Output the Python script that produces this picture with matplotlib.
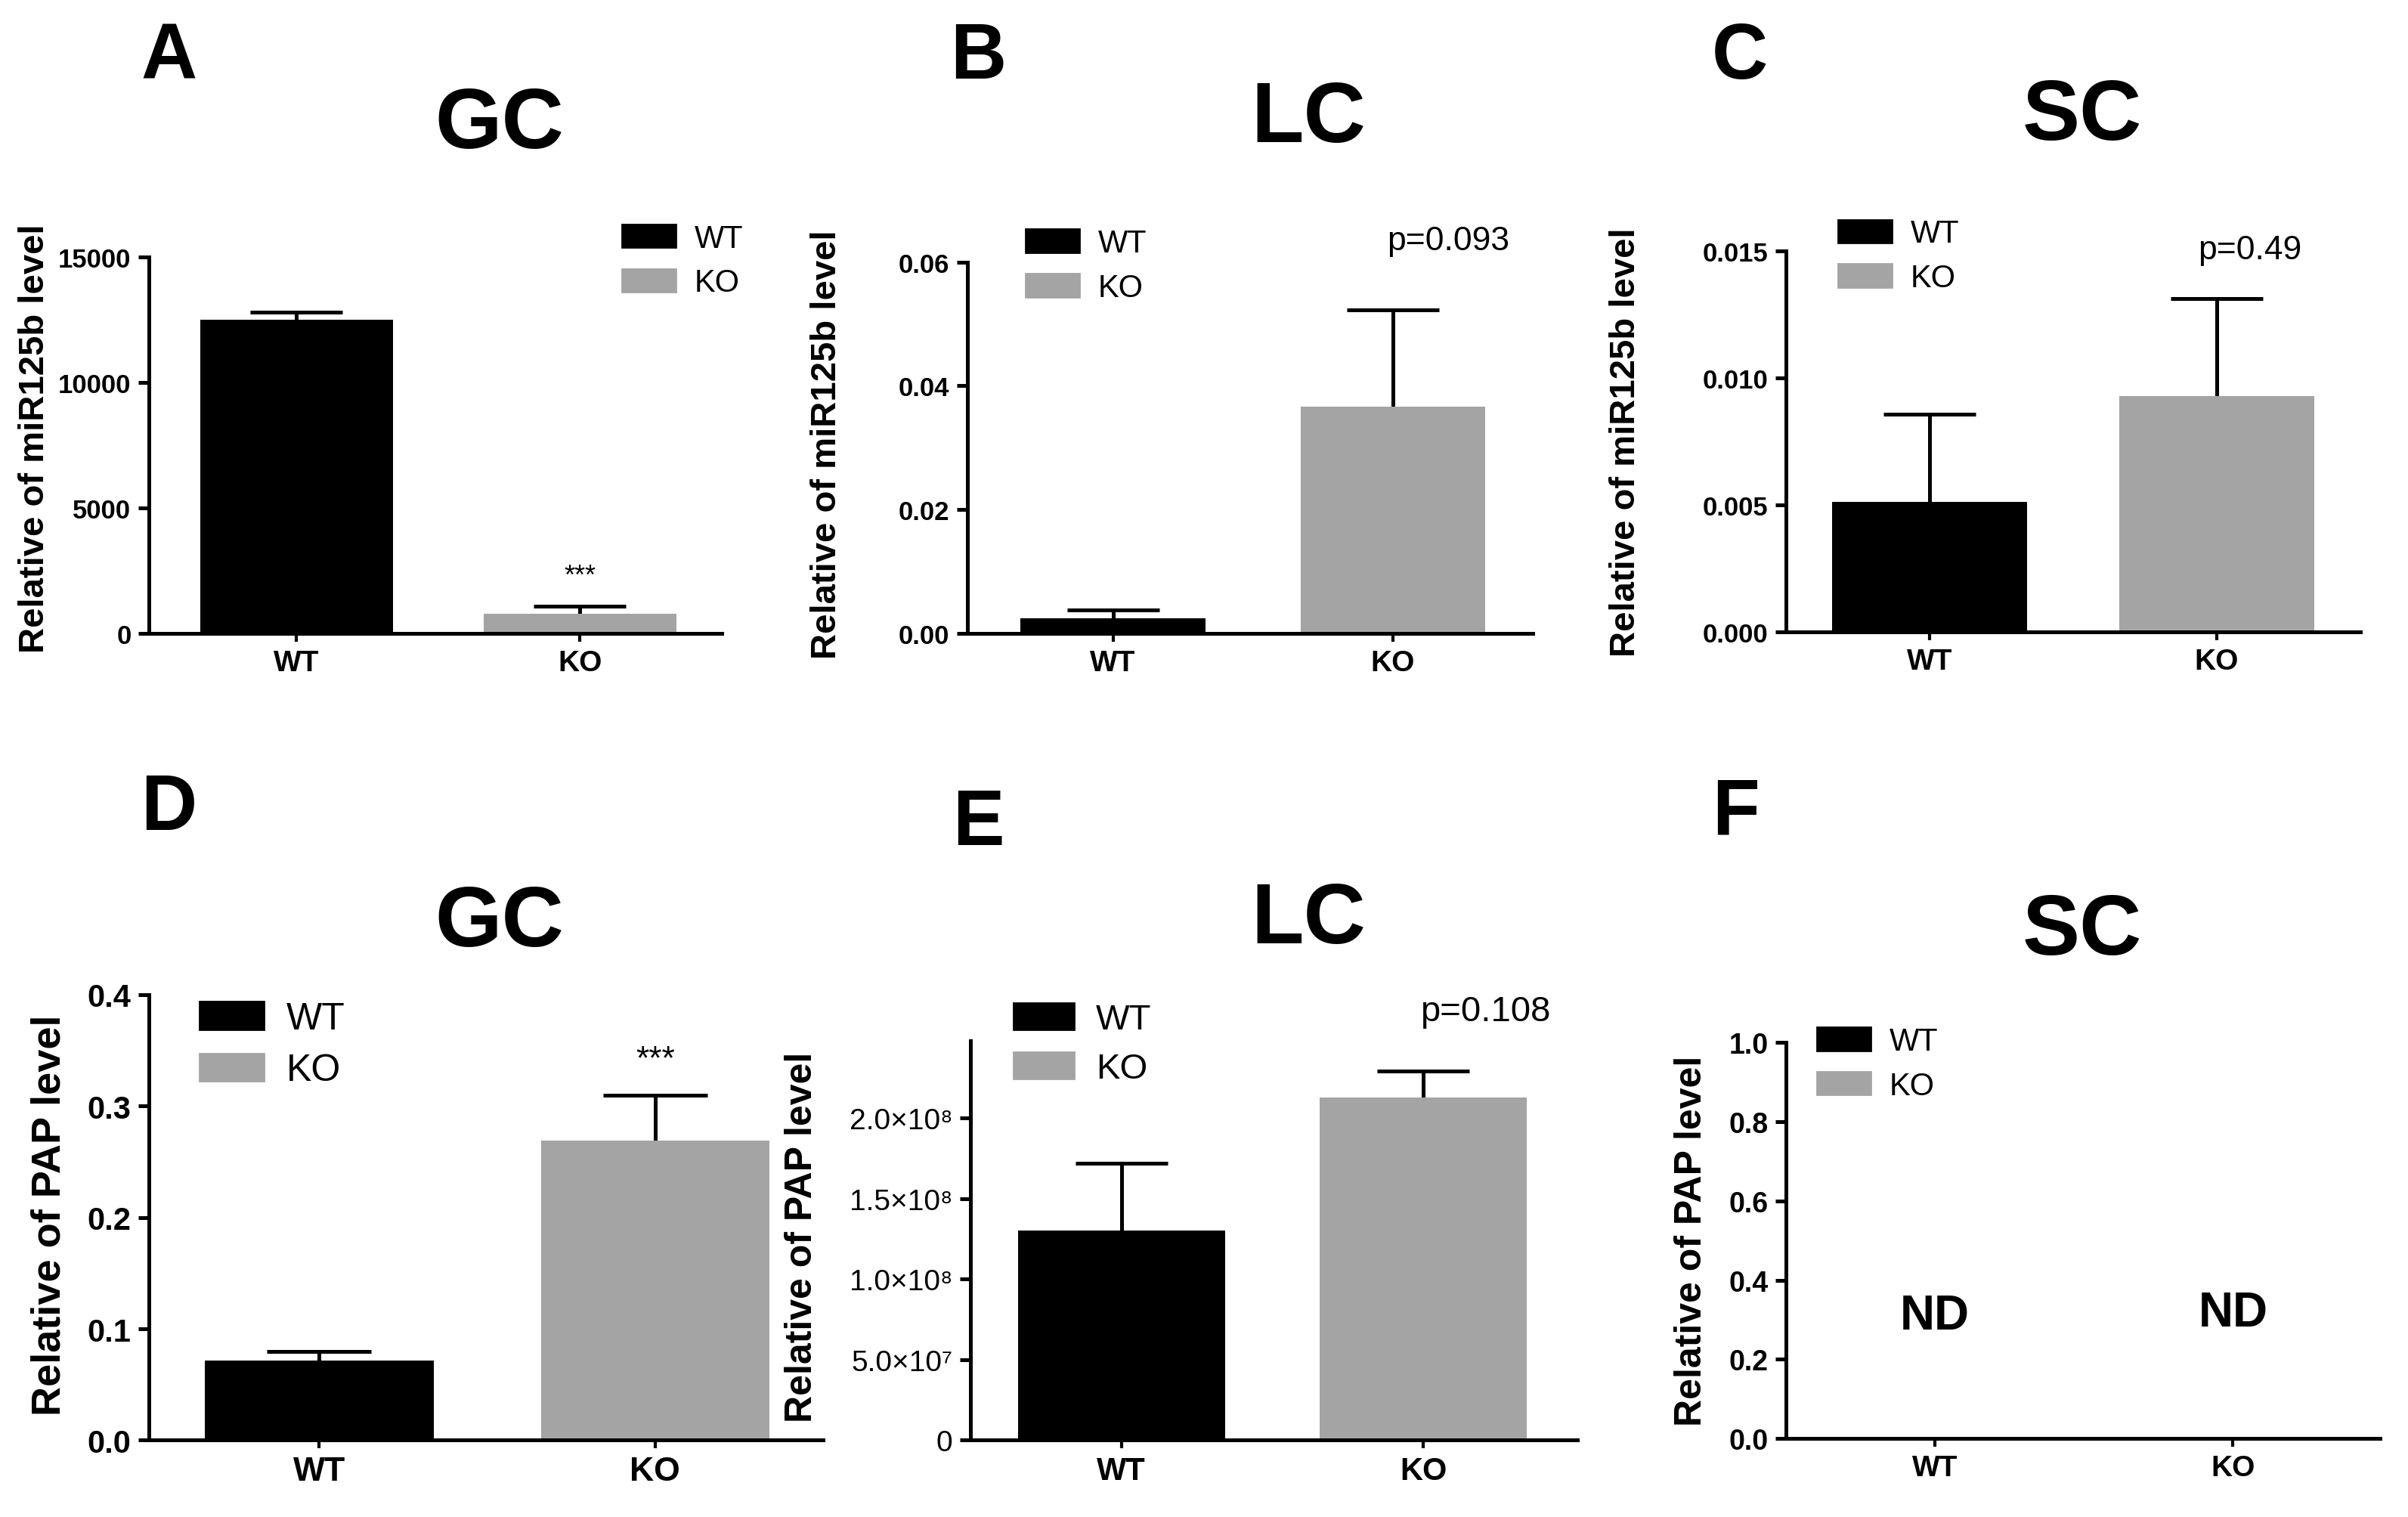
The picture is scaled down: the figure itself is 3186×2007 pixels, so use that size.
import matplotlib
matplotlib.use("Agg")
import matplotlib.pyplot as plt
from matplotlib.patches import Patch

plt.rcParams['font.family'] = ['Liberation Sans', 'DejaVu Sans']

groups = ["WT", "KO"]
colors = ["#000000", "#a4a4a4"]

# miR125b (panels A-C): mean and upper SEM
gc_mir = [12500, 800]
gc_mir_err = [300, 300]
lc_mir = [0.0025, 0.0367]
lc_mir_err = [0.0013, 0.0156]
sc_mir = [0.00514, 0.00931]
sc_mir_err = [0.00345, 0.00381]

# PAP (panels D-F)
gc_pap = [0.0717, 0.269]
gc_pap_err = [0.0083, 0.041]
lc_pap = [1.30e8, 2.13e8]
lc_pap_err = [0.42e8, 0.16e8]
sc_pap_labels = ["ND", "ND"]

lc_pap_ticks = [0, 5e7, 1e8, 1.5e8, 2e8]
lc_pap_ticklabels = ["0", "5.0×10⁷", "1.0×10⁸", "1.5×10⁸", "2.0×10⁸"]

W, H = 1568, 988  # layout measured on a scaled view


def box(x0, x1, ytop, ybot):
    return [x0 / W, 1 - ybot / H, (x1 - x0) / W, (ybot - ytop) / H]


fig = plt.figure(figsize=(15.93, 10.04), dpi=200)
fig.patch.set_facecolor("white")


def style(ax, ysize, xsize, ybold=True):
    for s in ["top", "right"]:
        ax.spines[s].set_visible(False)
    for s in ["left", "bottom"]:
        ax.spines[s].set_linewidth(1.8)
    ax.tick_params(axis="y", width=1.8, length=5, labelsize=ysize)
    ax.tick_params(axis="x", width=1.5, length=4, labelsize=xsize)
    ax.set_xticks([0, 1])
    ax.set_xticklabels(groups, fontweight="bold")
    if ybold:
        for t in ax.get_yticklabels():
            t.set_fontweight("bold")


def bars(ax, vals, errs, width, capsize):
    # symmetric bars drawn behind the columns, so only the upper half shows
    ax.errorbar([0, 1], vals, yerr=errs, fmt="none", ecolor="black",
                elinewidth=1.8, capsize=capsize, capthick=1.8, zorder=1)
    ax.bar([0, 1], vals, width=width, color=colors, zorder=2)


def legend(ax, anchor, size):
    handles = [Patch(color=c, label=g) for c, g in zip(colors, groups)]
    ax.legend(handles=handles, loc="upper left", bbox_to_anchor=anchor,
              frameon=False, fontsize=size, borderpad=0, borderaxespad=0,
              handlelength=1.7, handleheight=0.75, handletextpad=0.6,
              labelspacing=0.45)


# A
ax = fig.add_axes(box(97, 470, 168, 413))
bars(ax, gc_mir, gc_mir_err, 0.68, 22)
ax.set_xlim(-0.52, 1.5)
ax.set_ylim(0, 15000)
ax.set_yticks([0, 5000, 10000, 15000])
style(ax, 12.5, 14)
ax.text(1, 2300, "***", ha="center", va="center", fontsize=13)
ax.set_ylabel("Relative of miR125b level", fontsize=17, fontweight="bold")
ax.yaxis.set_label_coords(-0.17, 0.52)
legend(ax, (0.826, 1.09), 15)

# B
ax = fig.add_axes(box(630, 998, 171, 413))
bars(ax, lc_mir, lc_mir_err, 0.66, 22)
ax.set_xlim(-0.52, 1.5)
ax.set_ylim(0, 0.06)
ax.set_yticks([0, 0.02, 0.04, 0.06])
ax.set_yticklabels(["0.00", "0.02", "0.04", "0.06"])
style(ax, 12.5, 14)
ax.text(0.851, 1.058, "p=0.093", transform=ax.transAxes, ha="center",
        va="center", fontsize=16)
ax.set_ylabel("Relative of miR125b level", fontsize=17, fontweight="bold")
ax.yaxis.set_label_coords(-0.22, 0.51)
legend(ax, (0.103, 1.09), 15)

# C
ax = fig.add_axes(box(1163, 1537, 164, 412))
bars(ax, sc_mir, sc_mir_err, 0.68, 22)
ax.set_xlim(-0.5, 1.5)
ax.set_ylim(0, 0.015)
ax.set_yticks([0, 0.005, 0.010, 0.015])
ax.set_yticklabels(["0.000", "0.005", "0.010", "0.015"])
style(ax, 12.5, 14)
ax.text(0.807, 1.004, "p=0.49", transform=ax.transAxes, ha="center",
        va="center", fontsize=16)
ax.set_ylabel("Relative of miR125b level", fontsize=17, fontweight="bold")
ax.yaxis.set_label_coords(-0.25, 0.5)
legend(ax, (0.091, 1.085), 15)

# D
ax = fig.add_axes(box(97, 536, 648, 938))
bars(ax, gc_pap, gc_pap_err, 0.68, 25)
ax.set_xlim(-0.507, 1.5)
ax.set_ylim(0, 0.4)
ax.set_yticks([0, 0.1, 0.2, 0.3, 0.4])
ax.set_yticklabels(["0.0", "0.1", "0.2", "0.3", "0.4"])
style(ax, 15, 16)
ax.text(1, 0.342, "***", ha="center", va="center", fontsize=16)
ax.set_ylabel("Relative of PAP level", fontsize=19.5, fontweight="bold")
ax.yaxis.set_label_coords(-0.12, 0.507)
legend(ax, (0.075, 0.985), 18)

# E
ax = fig.add_axes(box(632, 1027, 678, 938))
bars(ax, lc_pap, lc_pap_err, 0.685, 22)
ax.set_xlim(-0.5, 1.51)
ax.set_ylim(0, 2.48e8)
ax.set_yticks(lc_pap_ticks)
ax.set_yticklabels(lc_pap_ticklabels)
style(ax, 14, 15, ybold=False)
ax.text(0.848, 1.073, "p=0.108", transform=ax.transAxes, ha="center",
        va="center", fontsize=17)
ax.set_ylabel("Relative of PAP level", fontsize=18, fontweight="bold")
ax.yaxis.set_label_coords(-0.25, 0.51)
legend(ax, (0.071, 1.095), 17)

# F
ax = fig.add_axes(box(1163, 1550, 679, 937))
ax.set_xlim(-0.5, 1.495)
ax.set_ylim(0, 1.0)
ax.set_yticks([0, 0.2, 0.4, 0.6, 0.8, 1.0])
ax.set_yticklabels(["0.0", "0.2", "0.4", "0.6", "0.8", "1.0"])
style(ax, 13.5, 14)
for i, lab in enumerate(sc_pap_labels):
    ax.text(i, 0.31 + 0.008 * i, lab, ha="center", va="center", fontsize=23,
            fontweight="bold")
ax.set_ylabel("Relative of PAP level", fontsize=18, fontweight="bold")
ax.yaxis.set_label_coords(-0.13, 0.5)
legend(ax, (0.052, 1.04), 15)

# titles and panel letters
titles = [("GC", 325, 82), ("LC", 852, 78), ("SC", 1356, 77),
          ("GC", 325, 602), ("LC", 852, 600), ("SC", 1356, 607)]
for t, x, y in titles:
    fig.text(x / W, 1 - y / H, t, ha="center", va="center", fontsize=41,
             fontweight="bold")
letters = [("A", 110, 38), ("B", 637, 38), ("C", 1133, 38),
           ("D", 110, 527), ("E", 637, 537), ("F", 1130, 530)]
for t, x, y in letters:
    fig.text(x / W, 1 - y / H, t, ha="center", va="center", fontsize=37,
             fontweight="bold")

fig.savefig("out.png", dpi=200, facecolor="white")
